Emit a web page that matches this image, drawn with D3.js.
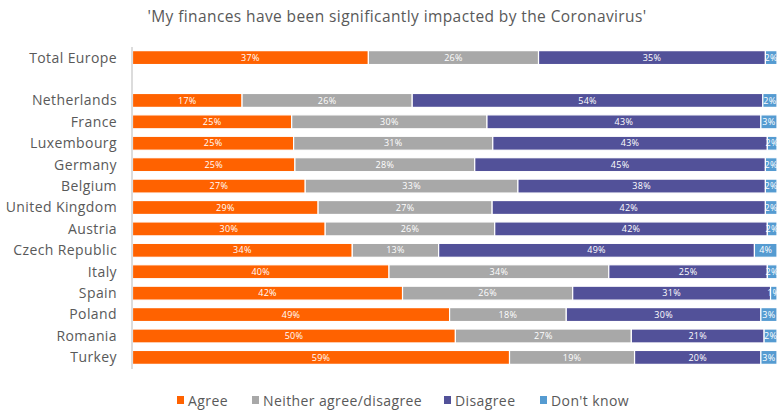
<!DOCTYPE html>
<html>
<head>
<meta charset="utf-8">
<script src="https://cdn.jsdelivr.net/npm/d3@7"></script>
<style>
    body { margin: 0; background: #fff; }
    text { font-family: "Open Sans", "DejaVu Sans", sans-serif; }
</style>
</head>
<body>
<div id="chart"></div>
<script>
// categories (blank entry = the gap under Total Europe)
const countries = ["Total Europe", "", "Netherlands", "France", "Luxembourg", "Germany", "Belgium",
    "United Kingdom", "Austria", "Czech Republic", "Italy", "Spain", "Poland", "Romania", "Turkey"];
const seriesNames = ["Agree", "Neither agree/disagree", "Disagree", "Don't know"];
const seriesColors = ["#ff6200", "#a8a8a8", "#525199", "#559bd1"];

// shares in %
const agree    = [36.6, null, 17.0, 24.7, 25.0, 25.2, 26.8, 28.8, 29.9, 34.1, 39.8, 41.9, 49.2, 50.1, 58.5];
const neither  = [26.4, null, 26.4, 30.3, 30.9, 27.9, 33.0, 27.0, 26.3, 13.4, 34.1, 26.4, 18.1, 27.3, 19.4];
const disagree = [35.2, null, 54.4, 42.5, 42.6, 45.1, 38.4, 42.4, 42.3, 49.0, 24.6, 30.7, 30.2, 20.6, 19.6];
const dontKnow = [1.8,  null, 2.2,  2.5,  1.5,  1.8,  1.8,  1.8,  1.5,  3.5,  1.5,  1.0,  2.5,  2.0,  2.5];

const title = "'My finances have been significantly impacted by the Coronavirus'";

let width = 779, height = 411;
let margin = {top: 47, right: 2, bottom: 43, left: 132.5};

let svg = d3.select("#chart").append("svg")
    .attr("width", width)
    .attr("height", height);

let rows = countries.map((c, i) => ({
    country: c,
    "Agree": agree[i],
    "Neither agree/disagree": neither[i],
    "Disagree": disagree[i],
    "Don't know": dontKnow[i]
})).filter(d => d.country !== "");

let x = d3.scaleLinear()
    .domain([0, 100])
    .range([margin.left, width - margin.right]);

let y = d3.scaleBand()
    .domain(countries)
    .range([margin.top, height - margin.bottom])
    .paddingInner(0.35)
    .paddingOuter(0.17);

let color = d3.scaleOrdinal().domain(seriesNames).range(seriesColors);

let stacked = d3.stack().keys(seriesNames)(rows);

// title
svg.append("text")
    .attr("x", 397)
    .attr("y", 22)
    .attr("text-anchor", "middle")
    .attr("fill", "#595959")
    .style("font-size", "15.5px")
    .style("letter-spacing", "0.4px")
    .text(title);

// bars
let layer = svg.selectAll(".layer")
    .data(stacked)
    .enter()
    .append("g")
    .attr("class", "layer")
    .attr("fill", d => color(d.key));

layer.selectAll("rect")
    .data(d => d.map(p => ({key: d.key, p: p})))
    .enter()
    .append("rect")
    .attr("x", d => x(d.p[0]))
    .attr("y", d => y(d.p.data.country))
    .attr("width", d => x(d.p[1]) - x(d.p[0]))
    .attr("height", y.bandwidth())
    .attr("stroke", "#fff")
    .attr("stroke-width", 1.2);

// value labels
layer.selectAll(".val")
    .data(d => d.map(p => ({key: d.key, p: p})))
    .enter()
    .append("text")
    .attr("class", "val")
    .attr("x", d => (x(d.p[0]) + x(d.p[1])) / 2)
    .attr("y", d => y(d.p.data.country) + y.bandwidth() / 2)
    .attr("dy", "0.35em")
    .attr("text-anchor", "middle")
    .attr("fill", "#fff")
    .style("font-size", "9px")
    .style("letter-spacing", "0.3px")
    .text(d => Math.round(d.p.data[d.key]) + "%");

// axis line
svg.append("line")
    .attr("x1", margin.left - 0.5)
    .attr("x2", margin.left - 0.5)
    .attr("y1", margin.top)
    .attr("y2", height - margin.bottom + 1)
    .attr("stroke", "#dcdcdc")
    .attr("stroke-width", 2);

// category labels
svg.selectAll(".cat")
    .data(countries.filter(c => c !== ""))
    .enter()
    .append("text")
    .attr("class", "cat")
    .attr("x", 117)
    .attr("y", d => y(d) + y.bandwidth() / 2)
    .attr("dy", "0.35em")
    .attr("text-anchor", "end")
    .attr("fill", "#595959")
    .style("font-size", "14px")
    .style("letter-spacing", "0.4px")
    .text(d => d);

// legend
let legendX = [177, 252, 444, 540];
let legend = svg.selectAll(".legend")
    .data(seriesNames)
    .enter()
    .append("g")
    .attr("class", "legend")
    .attr("transform", (d, i) => "translate(" + legendX[i] + ",401)");

legend.append("rect")
    .attr("x", 0)
    .attr("y", -5)
    .attr("width", 7)
    .attr("height", 8)
    .attr("fill", d => color(d));

legend.append("text")
    .attr("x", 11)
    .attr("y", 0)
    .attr("dy", "0.35em")
    .attr("fill", "#595959")
    .style("font-size", "14px")
    .style("letter-spacing", "0.4px")
    .text(d => d);
</script>
</body>
</html>
